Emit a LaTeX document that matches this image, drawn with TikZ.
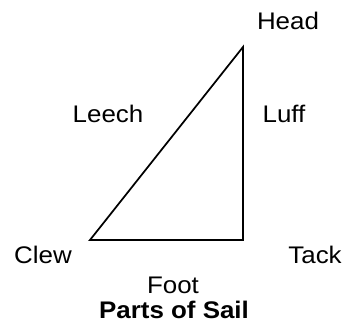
\documentclass[tikz,border=0pt]{standalone}
\usepackage{fontspec}
\setmainfont{Liberation Sans}
\begin{document}
\begin{tikzpicture}[
    x=0.75pt, y=-0.75pt,
    lbl/.style={inner sep=0pt, xscale=1.08, font=\fontsize{18pt}{21pt}\selectfont},
    ttl/.style={lbl, font=\fontsize{18pt}{21pt}\selectfont\bfseries},
    sail/.style={draw=black, line width=1.3pt, line join=miter},
]

% ---- Bounding box ----
\path[use as bounding box] (0,0) rectangle (347,328);

% ---- Corners ----
\coordinate (top) at (243,47);
\coordinate (clew) at (90,240);
\coordinate (tack) at (243,240);

% ---- Sail ----
\draw[sail] (top) -- (clew) -- (tack) -- cycle;

% ---- Labels ----
\node[lbl] (head) at (288,21) {Head};
\node[lbl] (leech) at (108,114) {Leech};
\node[lbl] (luff) at (284,114) {Luff};
\node[lbl] (clewlbl) at (43,255) {Clew};
\node[lbl] (tacklbl) at (315,255) {Tack};
\node[lbl] (foot) at (173,285) {Foot};
\node[ttl] (title) at (174,310) {Parts of Sail};

\end{tikzpicture}
\end{document}
